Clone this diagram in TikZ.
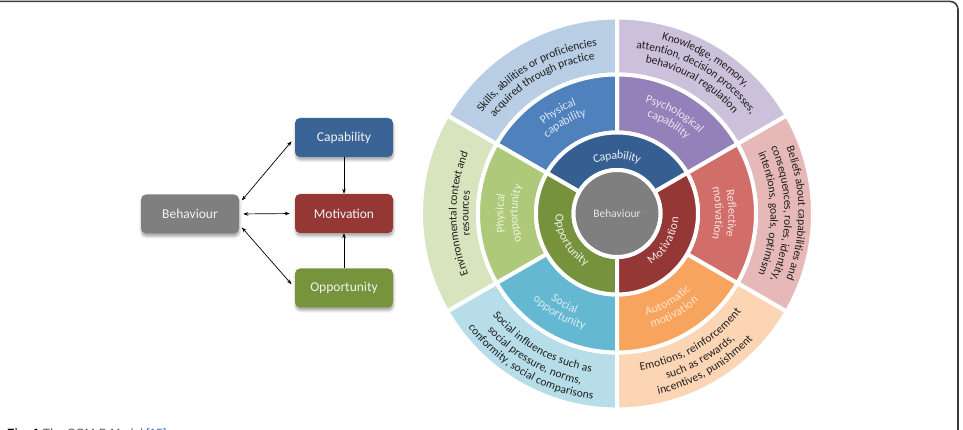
\documentclass[tikz,border=0pt]{standalone}
\usepackage{fontspec}
\setmainfont{Carlito}
\newfontfamily\capfont{Liberation Sans}
\usetikzlibrary{arrows.meta,decorations.text,shadows.blur,calc}
\definecolor{cgray}{HTML}{7F7F7F}
\definecolor{bcap}{HTML}{3A6496}
\definecolor{bmot}{HTML}{953735}
\definecolor{bopp}{HTML}{77933C}
\definecolor{icap}{HTML}{365F91}
\definecolor{iopp}{HTML}{76923C}
\definecolor{imot}{HTML}{953735}
\definecolor{mpcap}{HTML}{4F81BD}
\definecolor{mscap}{HTML}{9581BA}
\definecolor{mref}{HTML}{D16E6A}
\definecolor{maut}{HTML}{F7A55E}
\definecolor{msoc}{HTML}{65B8D2}
\definecolor{mpopp}{HTML}{AFC97A}
\definecolor{oskl}{HTML}{B9CDE5}
\definecolor{oknw}{HTML}{CCC1DA}
\definecolor{obel}{HTML}{E6B9B8}
\definecolor{oemo}{HTML}{FCD5B5}
\definecolor{osoc}{HTML}{B7DEE8}
\definecolor{oenv}{HTML}{D7E4BD}
\definecolor{framec}{HTML}{3C3C3C}
\definecolor{capgray}{HTML}{555555}
\definecolor{capblue}{HTML}{3A5FCD}
\definecolor{otext}{HTML}{1E1E1E}
\newcommand\fo{\fontsize{11.5}{13}\selectfont}
\newcommand\fm{\fontsize{12}{14}\selectfont}
\newcommand\fin{\fontsize{12}{14}\selectfont}
% annular sector: color, a1, a2, rin, rout
\newcommand\annsec[5]{%
  \filldraw[fill=#1,draw=white,line width=4pt,line join=round]
  ([shift={(#2:#5pt)}]C) arc[start angle=#2,end angle=#3,radius=#5pt]
  -- ([shift={(#3:#4pt)}]C) arc[start angle=#3,end angle=#2,radius=#4pt] -- cycle;}
% clockwise text (tops outward): angle, radius, color, text
\newcommand\cwlab[4]{%
  \path[decorate,decoration={text along path,text align=center,raise=-3.5pt,text color=#3,text={#4}}]
  ([shift={(#1+40:#2pt)}]C) arc[start angle={#1+40},end angle={#1-40},radius=#2pt];}
% counterclockwise text (tops inward)
\newcommand\ccwlab[4]{%
  \path[decorate,decoration={text along path,text align=center,raise=-3.5pt,text color=#3,text={#4}}]
  ([shift={(#1-40:#2pt)}]C) arc[start angle={#1-40},end angle={#1+40},radius=#2pt];}
\begin{document}
\begin{tikzpicture}[x=1pt,y=1pt,
  box/.style={rounded corners=5pt,minimum width=98pt,minimum height=39pt,
    text=white!95!black,font=\fontsize{13.5}{15}\selectfont,inner sep=0pt,
    blur shadow={shadow xshift=0.5pt,shadow yshift=-3pt,shadow blur radius=2.5pt,shadow opacity=35}},
  arr/.style={draw=black,line width=0.7pt},
  tip/.style={-{Stealth[length=5pt,width=3.6pt]}},
  dtip/.style={{Stealth[length=5pt,width=3.6pt]}-{Stealth[length=5pt,width=3.6pt]},shorten <=4pt,shorten >=5pt}]
\useasboundingbox (0,0) rectangle (963,430);
% frame
\draw[framec,line width=1.6pt,rounded corners=8pt] (-10,428.6) -- (958,428.6) -- (958,-30);
% caption (cut by page edge)
\node[anchor=base west,inner sep=0pt,font=\capfont\fontsize{12}{14}\selectfont] (cap) at (7,-8)
  {\textbf{Fig. 1} \textcolor{capgray}{The COM-B Model} \textcolor{capblue}{[15]}};
% left diagram
\node[box,fill=cgray] (beh) at (190,216) {Behaviour};
\node[box,fill=bcap] (cap1) at (344,292.5) {Capability};
\node[box,fill=bmot] (mot1) at (344,216.5) {Motivation};
\node[box,fill=bopp] (opp1) at (344,142) {Opportunity};
\draw[arr,dtip] (beh.12) -- (cap1.west);
\draw[arr,dtip] (beh.east) -- (mot1.west);
\draw[arr,dtip] (beh.-12) -- (opp1.west);
\draw[arr,tip] (cap1.south) -- (mot1.north);
\draw[arr,tip] (opp1.north) -- (mot1.south);
% wheel
\coordinate (C) at (617,216.5);
% outer ring
\annsec{oknw}{30}{90}{139}{196}
\annsec{oskl}{90}{150}{139}{196}
\annsec{oenv}{150}{210}{139}{196}
\annsec{osoc}{210}{270}{139}{196}
\annsec{oemo}{270}{330}{139}{196}
\annsec{obel}{330}{390}{139}{196}
% middle ring
\annsec{mscap}{30}{90}{81}{139}
\annsec{mpcap}{90}{150}{81}{139}
\annsec{mpopp}{150}{210}{81}{139}
\annsec{msoc}{210}{270}{81}{139}
\annsec{maut}{270}{330}{81}{139}
\annsec{mref}{330}{390}{81}{139}
% inner ring
\annsec{icap}{30}{150}{43.5}{81}
\annsec{iopp}{150}{270}{43.5}{81}
\annsec{imot}{270}{390}{43.5}{81}
% centre
\filldraw[fill=cgray,draw=white,line width=4pt] (C) circle[radius=43.5pt];
\node[text=white!90!black,font=\fontsize{11.5}{13}\selectfont] (bc) at (C) {Behaviour};
% inner labels
\cwlab{90}{58}{white!88!icap}{|\fin|Capability}
\ccwlab{210}{58}{white!88!iopp}{|\fin|Opportunity}
\ccwlab{330}{58}{white!88!imot}{|\fin|Motivation}
% middle labels
\cwlab{120}{119}{white!80!mpcap}{|\fm|Physical}
\cwlab{120}{106}{white!80!mpcap}{|\fm|capability}
\cwlab{60}{118}{white!78!mscap}{|\fm|Psychological}
\cwlab{60}{105}{white!78!mscap}{|\fm|capability}
\cwlab{0}{115}{white!80!mref}{|\fm|Reflective}
\cwlab{0}{102}{white!80!mref}{|\fm|motivation}
\cwlab{180}{117}{white!75!mpopp}{|\fm|Physical}
\cwlab{180}{103}{white!75!mpopp}{|\fm|opportunity}
\ccwlab{240}{105}{white!75!msoc}{|\fm|Social}
\ccwlab{240}{117}{white!75!msoc}{|\fm|opportunity}
\ccwlab{300}{103}{white!70!maut}{|\fm|Automatic}
\ccwlab{300}{116}{white!70!maut}{|\fm|motivation}
% outer labels
\cwlab{120}{172}{otext}{|\fo|Skills, abilities or proficiencies}
\cwlab{120}{159}{otext}{|\fo|acquired through practice}
\cwlab{60}{183}{otext}{|\fo|Knowledge, memory,}
\cwlab{60}{170}{otext}{|\fo|attention, decision processes,}
\cwlab{60}{157}{otext}{|\fo|behavioural regulation}
\cwlab{0}{185}{otext}{|\fo|Beliefs about capabilities and}
\cwlab{0}{171}{otext}{|\fo|consequences, roles, identity,}
\cwlab{0}{157}{otext}{|\fo|intentions, goals, optimism}
\cwlab{180}{164}{otext}{|\fo|Environmental context and}
\cwlab{180}{152}{otext}{|\fo|resources}
\ccwlab{240}{157}{otext}{|\fo|Social influences such as}
\ccwlab{240}{171}{otext}{|\fo|social pressure, norms,}
\ccwlab{240}{184}{otext}{|\fo|conformity, social comparisons}
\ccwlab{300}{155}{otext}{|\fo|Emotions, reinforcement}
\ccwlab{300}{169}{otext}{|\fo|such as rewards,}
\ccwlab{300}{182}{otext}{|\fo|incentives, punishment}
\end{tikzpicture}
\end{document}
